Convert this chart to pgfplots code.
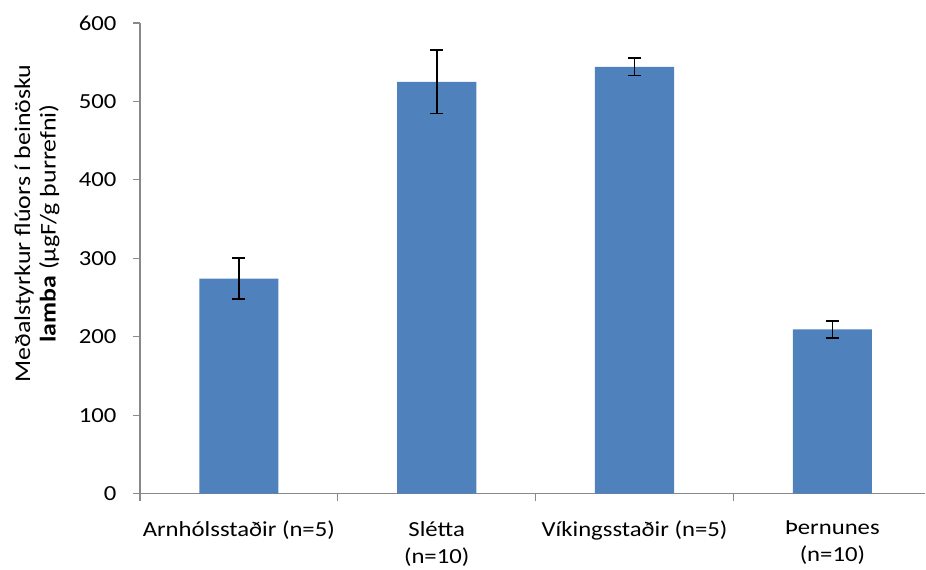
\documentclass[border=0pt]{standalone}
\usepackage{fontspec}
\setmainfont[FakeStretch=1.15]{Carlito}
\usepackage{pgfplots}
\pgfplotsset{compat=1.18}
\definecolor{barblue}{HTML}{4F81BD}
\definecolor{axgray}{HTML}{898989}
\begin{document}
\begin{tikzpicture}
\begin{axis}[
  name=ax,
  scale only axis, width=786pt, height=471pt,
  xmin=-0.5, xmax=3.47, ymin=0, ymax=600,
  axis x line*=bottom, axis y line*=left,
  axis line style={axgray, line width=1.2pt},
  tick style={axgray, line width=1.2pt},
  tick align=outside,
  major tick length=7pt, minor tick length=7pt,
  ytick={0,100,...,600},
  xtick={0,1,2,3},
  xticklabels={Arnhólsstaðir (n=5), {Slétta\\(n=10)}, Víkingsstaðir (n=5), {Þernunes\\(n=10)}},
  minor xtick={-0.5,0.5,1.5,2.5},
  major x tick style={draw=none},
  /pgf/number format/assume math mode=true,
  ticklabel style={font=\fontsize{21.5}{27}\selectfont},
  xticklabel style={align=center, yshift=-17pt},
  yticklabel style={xshift=-13pt},
  ylabel={Meðalstyrkur flúors í beinösku\\\textbf{lamba} (µgF/g þurrefni)},
  ylabel style={align=center, font=\fontsize{22.5}{25.5}\selectfont,
    at={(axis description cs:-0.131,0.574)}, anchor=center},
]
\addplot[ybar, bar width=0.4, fill=barblue, draw=none,
  error bars/.cd, y dir=both, y explicit,
  error bar style={black, line width=1.7pt},
  error mark options={rotate=90, mark size=6.5pt, black, line width=1.7pt}]
  coordinates {
  (0,274) +- (0,26)
  (1,525) +- (0,40.5)
  (2,544) +- (0,11)
  (3,209.5) +- (0,11)
  };
\end{axis}
\path[use as bounding box] ([xshift=-140pt,yshift=-70pt]ax.south west) rectangle ([yshift=23pt]ax.north east);
\end{tikzpicture}
\end{document}
